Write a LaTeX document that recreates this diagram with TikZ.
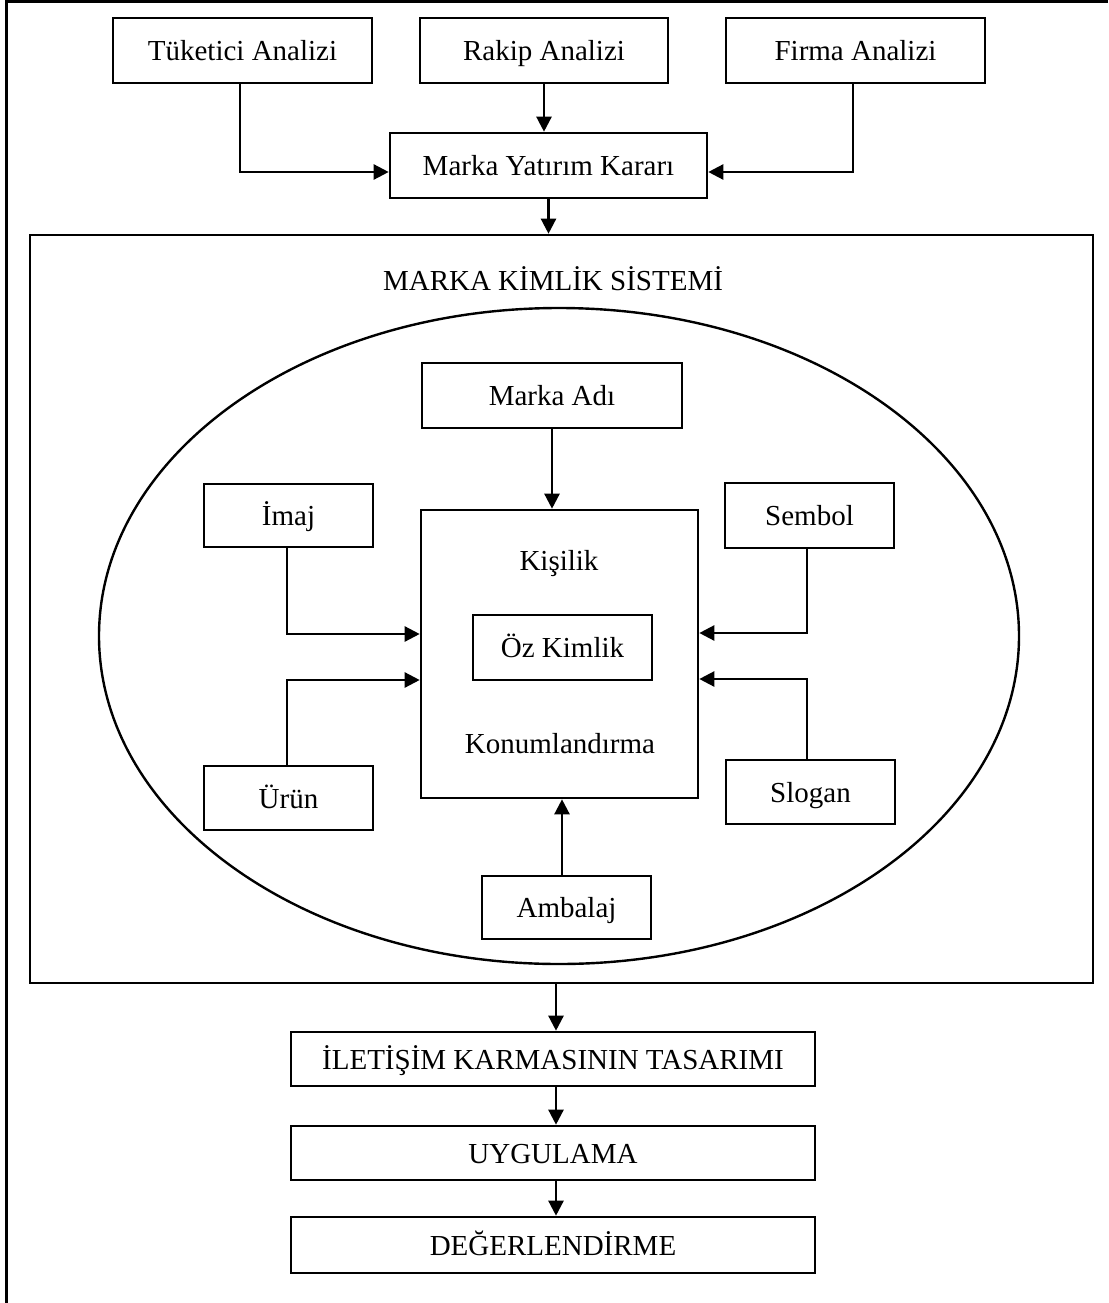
\documentclass[tikz,border=0pt]{standalone}
\usepackage{fontspec}
\setmainfont{Liberation Serif}
\usetikzlibrary{arrows.meta}
\begin{document}
\begin{tikzpicture}[x=1pt,y=-1pt,
  txt/.style={inner sep=0pt, text height=26pt, text depth=6pt, font=\fontsize{29}{34}\selectfont},
  box/.style={txt, draw, line width=2.6pt},
  arr/.style={line width=2.4pt, -{Triangle[length=15pt,width=15pt]}}]
\useasboundingbox (0,0) rectangle (1108,1303);
% outer frame (open at right and bottom)
\draw[line width=3pt] (6,1303) -- (6,2) -- (1108,2);

% analyses and investment decision
\node[box, minimum width=259pt, minimum height=65pt] (tuk) at (242.5,50.5) {Tüketici Analizi};
\node[box, minimum width=248pt, minimum height=65pt] (rak) at (544,50.5) {Rakip Analizi};
\node[box, minimum width=259pt, minimum height=65pt] (firm) at (855.5,50.5) {Firma Analizi};
\node[box, minimum width=317pt, minimum height=65pt] (myk) at (548.5,165.5) {Marka Yatırım Kararı};

% brand identity system
\node[box, minimum width=1063pt, minimum height=748pt] (big) at (561.5,609) {};
\node[txt] (title) at (553,280) {MARKA KİMLİK SİSTEMİ};
\draw[line width=2.4pt] (559,636) ellipse [x radius=460pt, y radius=328pt];

\node[box, minimum width=260pt, minimum height=65pt] (madi) at (552,395.5) {Marka Adı};
\node[box, minimum width=277pt, minimum height=288pt] (core) at (559.5,654) {};
\node[txt] (kis) at (559,560) {Kişilik};
\node[box, minimum width=179pt, minimum height=65pt] (oz) at (562.5,647.5) {Öz Kimlik};
\node[txt] (kon) at (560,743) {Konumlandırma};

\node[box, minimum width=169pt, minimum height=63pt] (imaj) at (288.5,515.5) {İmaj};
\node[box, minimum width=169pt, minimum height=64pt] (urun) at (288.5,798) {Ürün};
\node[box, minimum width=169pt, minimum height=65pt] (sem) at (809.5,515.5) {Sembol};
\node[box, minimum width=169pt, minimum height=64pt] (slo) at (810.5,792) {Slogan};
\node[box, minimum width=169pt, minimum height=63pt] (amb) at (566.5,907.5) {Ambalaj};

% implementation chain
\node[box, minimum width=524pt, minimum height=54pt] (ilet) at (553,1059) {İLETİŞİM KARMASININ TASARIMI};
\node[box, minimum width=524pt, minimum height=54pt] (uyg) at (553,1153) {UYGULAMA};
\node[box, minimum width=524pt, minimum height=56pt] (deg) at (553,1245) {DEĞERLENDİRME};

% connectors
\draw[arr] ([xshift=-2.5pt]tuk.south) |- ([yshift=-6.5pt]myk.west);
\draw[arr] (rak.south) -- (rak.south |- myk.north);
\draw[arr] ([xshift=-2.5pt]firm.south) |- ([yshift=-6.5pt]myk.east);
\draw[arr] (myk.south) -- (myk.south |- big.north);

\draw[arr] (madi.south) -- (madi.south |- core.north);
\draw[arr] ([xshift=-1.5pt]imaj.south) |- ([yshift=20pt]core.west);
\draw[arr] ([xshift=-1.5pt]urun.north) |- ([yshift=-26pt]core.west);
\draw[arr] ([xshift=-2.5pt]sem.south) |- ([yshift=21pt]core.east);
\draw[arr] ([xshift=-3.5pt]slo.north) |- ([yshift=-25pt]core.east);
\draw[arr] ([xshift=-4.5pt]amb.north) -- ([xshift=-4.5pt]amb.north |- core.south);

\draw[arr] ([xshift=3pt]big.south -| ilet.north) -- ([xshift=3pt]ilet.north);
\draw[arr] ([xshift=3pt]ilet.south) -- ([xshift=3pt]uyg.north);
\draw[arr] ([xshift=3pt]uyg.south) -- ([xshift=3pt]deg.north);
\end{tikzpicture}
\end{document}
